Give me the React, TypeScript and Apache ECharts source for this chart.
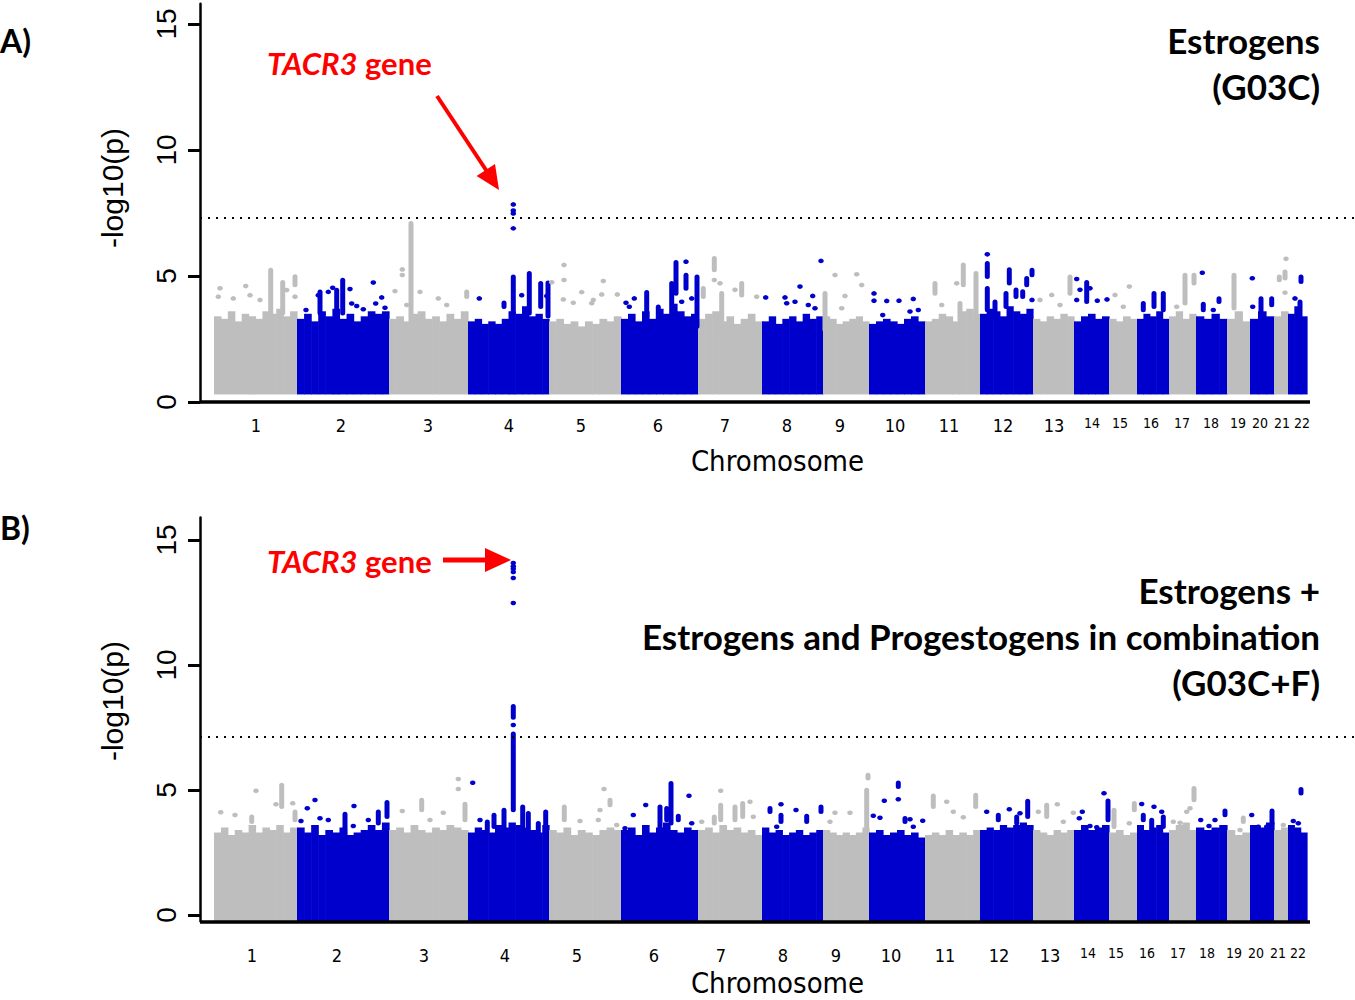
import React, { useEffect, useRef } from "react";
import * as echarts from "echarts";

const chromosomes = ["1","2","3","4","5","6","7","8","9","10","11","12","13","14","15","16","17","18","19","20","21","22"];
// relative span of each chromosome on the genome axis
const chrSizes = [83, 92, 79, 81, 72, 77, 64, 61, 46, 56, 55, 53, 41, 35, 28, 32, 27, 31, 23, 24, 14, 19];
// tick label positions on the same axis
const chrLabelPos = [42, 127, 214, 295, 367, 444, 511, 573, 626, 681, 735, 789, 840, 878, 906, 937, 968, 997, 1024, 1046, 1068, 1088];
const yTicks = [0, 5, 10, 15];
const thresholdA = 7.3;
const thresholdB = 7.13;
const floorA = 0.3;
const floorB = -0.25;

// dense bulk of SNPs: top of the dense cloud along each chromosome
const bulkTopsA = [
  [3.4,3.3,3.6,3.2,3.5,3.4,3.3,3.6,3.5,3.7,3.4,3.6],
  [3.3,3.5,3.2,3.6,3.4,3.7,3.3,3.5,3.2,3.4,3.6,3.5,3.6],
  [3.3,3.4,3.2,3.5,3.6,3.3,3.4,3.2,3.5,3.3,3.6],
  [3.2,3.3,3.1,3.2,3.1,3.3,3.6,3.5,3.8,3.4,3.5,3.3],
  [3.2,3.3,3.1,3.2,3.0,3.2,3.1,3.3,3.2,3.4],
  [3.3,3.5,3.2,3.6,3.3,3.7,3.5,3.9,3.6,3.4,3.5],
  [3.3,3.5,3.6,3.2,3.4,3.1,3.3,3.5,3.2],
  [3.2,3.4,3.1,3.3,3.4,3.2,3.5,3.3,3.4],
  [3.4,3.3,3.1,3.2,3.3,3.4,3.2],
  [3.1,3.2,3.3,3.2,3.1,3.3,3.4,3.2],
  [3.2,3.3,3.5,3.4,3.2,3.6,3.7,3.5],
  [3.5,3.7,3.6,3.4,3.8,3.6,3.5,3.7],
  [3.3,3.2,3.4,3.3,3.5,3.4],
  [3.2,3.4,3.5,3.3,3.4],
  [3.3,3.2,3.4,3.3],
  [3.3,3.5,3.4,3.6,3.3],
  [3.4,3.6,3.3,3.5],
  [3.4,3.3,3.5,3.3],
  [3.3,3.6,3.2],
  [3.3,3.6,3.4],
  [3.4,3.6],
  [3.5,3.8,3.4],
];
const bulkTopsB = [
  [3.3,3.5,3.2,3.4,3.3,3.6,3.3,3.5,3.4,3.6,3.3,3.5],
  [3.5,3.3,3.6,3.2,3.4,3.3,3.5,3.2,3.3,3.4,3.6,3.4,3.7],
  [3.4,3.5,3.3,3.6,3.4,3.3,3.5,3.4,3.6,3.5,3.4],
  [3.3,3.5,3.4,3.3,3.6,3.5,3.7,3.6,3.5,3.4,3.3,3.6],
  [3.4,3.3,3.5,3.2,3.4,3.3,3.2,3.4,3.5,3.4],
  [3.4,3.5,3.2,3.6,3.3,3.5,3.7,3.4,3.3,3.5,3.4],
  [3.4,3.5,3.3,3.6,3.4,3.5,3.3,3.4,3.2],
  [3.5,3.3,3.4,3.2,3.3,3.4,3.2,3.3,3.4],
  [3.4,3.3,3.2,3.3,3.2,3.3,3.5],
  [3.3,3.4,3.2,3.3,3.4,3.2,3.3,3.1],
  [3.2,3.3,3.2,3.4,3.2,3.3,3.2,3.4],
  [3.4,3.5,3.4,3.6,3.5,3.6,3.7,3.6],
  [3.4,3.3,3.2,3.4,3.3,3.4],
  [3.4,3.6,3.4,3.5,3.6],
  [3.3,3.4,3.2,3.3],
  [3.6,3.4,3.5,3.6,3.3],
  [3.4,3.6,3.7,3.4],
  [3.5,3.4,3.5,3.6],
  [3.4,3.2,3.3],
  [3.6,3.5,3.7],
  [3.4,3.5],
  [3.6,3.5,3.3],
];

// vertical runs of SNPs above the bulk: [position, low, high]
const streaksA = [
  [56.7,3.25,5.24],[68.7,3.52,4.75],[81,4.64,4.98],
  [106,3.52,4.37],[122.7,3.52,4.44],[128.7,3.52,4.84],
  [197,2.99,7.09],[252.7,4.18,4.37],
  [299.3,3.52,4.97],[315.3,3.52,5.11],[326.7,3.78,4.71],[334,3.4,4.73],[290,3.78,3.94],
  [462,4.31,5.54],[472,4.51,5.04],[457.7,2.86,4.71],[483,3.0,4.97],[432.7,3.39,4.35],[444.3,2.86,3.78],
  [500.3,5.24,5.7],[507.7,2.86,4.31],[527.7,4.24,4.71],[489.3,4.18,4.51],
  [611,2.86,4.31],
  [749.3,4.64,5.44],[762,3.52,5.11],[721,4.31,4.71],[746,3.25,3.92],
  [773.3,4.97,5.5],[773.3,3.65,4.51],[795.3,4.71,5.26],[818,5.04,5.24],[802,4.18,4.45],[812.7,4.64,4.91],[808.7,4.18,4.38],[792,3.78,4.31],[781,3.39,3.98],
  [856,4.31,4.97],
  [872.7,3.98,4.75],
  [940,3.78,4.31],[949.3,3.65,4.31],[929.3,3.65,3.92],
  [971,3.92,5.04],[980,4.71,5.04],
  [989.3,3.65,3.89],[1005,3.98,4.11],
  [1020,3.72,5.04],
  [1047,3.39,4.11],[1057.7,3.85,4.11],
  [1071,4.91,5.17],[1065.3,4.84,4.97],
  [1087,4.77,4.97],[1086,3.39,3.98],
];
// isolated SNPs: [position, -log10(p)]
const dotsA = [
  [6,4.51],[4.3,4.18],[19.3,4.11],[31.7,4.6],[36,4.24],[46,4.05],[72.7,4.44],[81,4.18],
  [92,3.65],[104.3,4.24],[114.3,4.37],[118.7,4.53],[136,4.48],[137.7,3.91],[142.7,3.81],[149.3,3.68],[159.3,4.74],[161.7,3.91],[167.7,4.15],[171,3.74],
  [188.3,5.26],[188.3,5.04],[181,4.4],[206,4.37],[192.7,3.85],[224.3,4.11],[232.7,3.85],
  [299.3,7.84],[299.3,7.6],[299.3,7.48],[299.3,6.89],[265.3,4.11],[307.7,4.24],[332.7,4.21],
  [350,5.44],[350,4.84],[337.7,4.75],[389.3,4.8],[367.7,4.36],[379.3,4.05],[387.7,4.27],[403.3,4.27],[359.3,3.94],[349.3,4.07],[377.7,3.92],
  [472,5.57],[420.3,4.11],[412,3.94],[467.7,3.98],[477.7,4.11],[415.3,3.78],
  [500.3,4.84],[506,4.71],[521,4.45],[542.7,4.18],
  [551.7,4.15],[571,4.15],[572.7,3.92],[581,3.98],[586,4.58],[598.7,4.21],[594.3,3.85],[601,3.72],[607,5.6],
  [621,5.04],[642.7,5.07],[647.7,4.64],[631,4.21],[627.7,3.72],
  [660,4.31],[660,4.02],[672.7,4.01],[685,4.02],[699.3,4.09],[668.7,3.45],[696,3.59],[704.3,3.65],
  [742.7,4.71],[727.7,3.85],
  [773.3,5.86],[818,4.05],
  [837.7,4.25],[826,4.05],[846,3.85],
  [862.7,4.88],[876,4.51],[866,4.45],[883.3,4.02],[893,4.07],[862.7,4.05],
  [901,4.25],[915.3,4.58],[909.3,3.78],
  [962.7,3.78],
  [988.3,5.13],[999.3,3.65],
  [1038.3,4.91],[1038.7,3.78],
  [1072,5.68],[1071,4.34],
  [1081,4.11],
];
const streaksB = [
  [67.7,4.33,5.2],[37.7,3.73,3.93],[81,3.8,4.13],
  [131,3.0,4.04],[164.3,3.67,4.13],[173,3.93,4.51],
  [207.7,4.2,4.6],[251,3.8,4.44],
  [299.3,7.9,8.35],[299.3,4.2,7.25],[290,3.0,4.2],[280,3.53,4.0],[308.7,3.53,4.33],[314.3,3.0,4.07],[331.7,3.0,4.13],[273.3,3.33,3.73],[324.3,3.27,3.67],
  [350.3,3.8,4.33],[396,4.4,4.6],
  [457,3.67,5.27],[446,3.13,4.33],[452.7,3.8,4.27],[464.3,3.8,3.96],
  [506.7,3.8,4.4],[521,3.8,4.33],[528.7,3.93,4.47],[500.3,3.67,3.93],
  [556,4.13,4.27],[567,3.73,4.0],[592.7,3.73,3.96],[607,4.13,4.33],
  [652.7,3.53,5.0],[654,5.47,5.6],
  [684.3,5.13,5.29],[691,3.73,3.87],
  [719.3,4.33,4.77],[761.7,4.33,4.8],
  [813.7,3.93,4.56],[784.3,3.8,4.0],[802.7,3.67,3.93],
  [832.7,3.93,4.4],
  [894,3.8,4.57],
  [900,3.53,4.2],[920.3,4.2,4.47],
  [929.3,3.8,4.0],[937.7,3.4,3.8],[949.3,3.53,3.93],
  [980,4.6,5.07],
  [1011,4.0,4.17],
  [1029.3,3.73,3.89],
  [1058,3.67,4.17],
  [1087,4.87,5.03],
];
const dotsB = [
  [42,4.97],[62,4.43],[78.7,4.47],[6.7,4.11],[21,4.0],
  [101,4.6],[93.3,4.27],[87,3.76],[106,3.87],[114.3,3.8],[140,4.36],[154.3,3.8],[139.3,3.56],
  [244.3,5.44],[244.3,5.04],[188.3,4.16],[229.3,4.09],[216,3.8],
  [299.3,14.08],[299.3,13.95],[299.3,13.85],[299.3,13.72],[299.3,13.48],[299.3,12.48],[299.3,7.6],[258.7,5.29],[266,3.8],
  [390,5.04],[386,4.2],[366,3.76],[402.7,3.6],[384.3,3.8],
  [475,4.77],[431.7,4.4],[419.3,4.0],[477.7,3.67],[411,3.47],
  [506.7,4.97],[536,4.53],[487.7,3.73],[539.3,3.93],
  [567,4.43],[582,4.2],[562.7,3.53],
  [621,4.09],[636,4.09],[616,3.73],
  [684.3,4.63],[670.3,4.57],[659.3,3.97],[666,3.89],[696,3.83],[708.7,3.77],[699.3,3.53],
  [732.7,4.53],[739.3,4.13],[749.3,3.91],
  [795.3,4.23],[772.7,4.13],[806,4.07],
  [843.3,4.43],[824.3,4.13],[859.3,4.09],[849.3,3.73],
  [890,4.87],[868.3,4.13],[865.3,3.87],[876,3.56],[882.7,3.51],
  [915.3,3.67],
  [927.7,4.44],[940,4.33],[947.7,4.13],
  [972.7,4.13],[976,4.27],[959.3,3.73],[966,3.69],
  [986.7,3.8],[1001,3.8],[995,3.56],
  [1026,3.4],
  [1037.7,4.0],[1044.3,3.53],[1052.7,3.53],
  [1069.3,3.6],
  [1079.3,3.76],[1084.3,3.67],
];

const GREY = "#BEBEBE";
const BLUE = "#0000CD";
const RED = "#FF0000";

const chrStarts: number[] = [];
chrSizes.reduce((acc, s) => { chrStarts.push(acc); return acc + s; }, 0);
const genomeEnd = chrStarts[chrStarts.length - 1] + chrSizes[chrSizes.length - 1];

function chrIndexOf(u: number) {
  for (let i = 0; i < chrSizes.length; i++) {
    if (u < chrStarts[i] + chrSizes[i]) return i;
  }
  return chrSizes.length - 1;
}
const colorOf = (ci: number) => (ci % 2 === 0 ? GREY : BLUE);

function buildColumns(tops: number[][]) {
  const cols: number[][] = [];
  tops.forEach((arr, ci) => {
    const w = chrSizes[ci] / arr.length;
    arr.forEach((t, k) => cols.push([chrStarts[ci] + k * w, chrStarts[ci] + (k + 1) * w, t, ci]));
  });
  return cols;
}

const X_MIN = -14;
const X_MAX = 1141;
const NARROW = "'Liberation Sans Narrow', 'DejaVu Sans Condensed', 'Liberation Sans', sans-serif";

function panelSeries(idx: number, tops: number[][], streaks: number[][], dots: number[][], floor: number, thr: number, yMin: number) {
  const cols = buildColumns(tops);
  return [
    {
      type: "custom",
      xAxisIndex: idx,
      yAxisIndex: idx,
      silent: true,
      z: 2,
      encode: { x: [0, 1], y: 2 },
      data: cols,
      renderItem: (params: any, api: any) => {
        const x0 = api.value(0), x1 = api.value(1), top = api.value(2), ci = api.value(3);
        const p0 = api.coord([x0, top]);
        const p1 = api.coord([x1, floor]);
        return {
          type: "rect",
          shape: { x: p0[0], y: p0[1], width: p1[0] - p0[0] + 0.6, height: p1[1] - p0[1] },
          style: { fill: colorOf(ci) },
        };
      },
    },
    {
      type: "custom",
      xAxisIndex: idx,
      yAxisIndex: idx,
      silent: true,
      z: 3,
      encode: { x: 0, y: [1, 2] },
      data: streaks.map((s) => [s[0], s[1], s[2], chrIndexOf(s[0])]),
      renderItem: (params: any, api: any) => {
        const u = api.value(0), lo = api.value(1), hi = api.value(2), ci = api.value(3);
        const pHi = api.coord([u, hi]);
        const pLo = api.coord([u, lo]);
        return {
          type: "rect",
          shape: { x: pHi[0] - 2.5, y: pHi[1] - 2.3, width: 5, height: pLo[1] - pHi[1] + 4.6, r: 2.5 },
          style: { fill: colorOf(ci) },
        };
      },
    },
    {
      type: "scatter",
      xAxisIndex: idx,
      yAxisIndex: idx,
      silent: true,
      z: 4,
      symbol: "circle",
      symbolSize: [5.5, 4.6],
      data: dots.map((d) => [d[0], d[1], chrIndexOf(d[0])]),
      itemStyle: { color: (p: any) => colorOf(p.data[2]), opacity: 1 },
      markLine: {
        silent: true,
        symbol: ["none", "none"],
        animation: false,
        label: { show: false },
        emphasis: { disabled: true },
        data: [
          { yAxis: thr, lineStyle: { type: [2, 6], width: 2, color: "#000" } },
          [
            { coord: [X_MIN, yMin], lineStyle: { type: "solid", width: 3.5, color: "#000" } },
            { coord: [genomeEnd + 3, yMin] },
          ],
        ],
      },
    },
  ];
}

function xAxisFor(idx: number, margin: number, nameGap: number, shift: number) {
  return {
    gridIndex: idx,
    type: "value",
    min: X_MIN,
    max: X_MAX,
    axisLine: { show: false, onZero: false },
    axisTick: { show: false },
    splitLine: { show: false },
    axisLabel: {
      customValues: chrLabelPos,
      margin,
      padding: [0, shift, 0, 0],
      formatter: (v: number) => {
        const i = chrLabelPos.findIndex((c) => Math.abs(c - v) < 0.01);
        const name = i >= 0 ? chromosomes[i] : "";
        return i >= 13 ? `{s|${name}}` : `{b|${name}}`;
      },
      rich: {
        b: { fontSize: 18, fontFamily: NARROW, color: "#000" },
        s: { fontSize: 14, fontFamily: NARROW, color: "#000" },
      },
    },
    name: "Chromosome",
    nameLocation: "middle",
    nameGap,
    nameTextStyle: { fontSize: 29, lineHeight: 29, fontFamily: NARROW, color: "#000" },
  };
}

function yAxisFor(idx: number, min: number, max: number) {
  return {
    gridIndex: idx,
    type: "value",
    min,
    max,
    splitLine: { show: false },
    axisLine: { show: true, onZero: false, lineStyle: { color: "#000", width: 2.5 } },
    axisTick: { show: true, length: 12, customValues: yTicks, lineStyle: { color: "#000", width: 3 } },
    axisLabel: {
      customValues: yTicks,
      rotate: 90,
      margin: 20,
      fontSize: 28,
      fontFamily: "'Liberation Sans', Arial, sans-serif",
      color: "#000",
    },
  };
}

function textEl(x: number, y: number, text: string, font: string, align = "left", fill = "#000", extra: any = {}) {
  return { type: "text", x, y, silent: true, ...extra, style: { text, font, fill, align, verticalAlign: "middle", ...(extra.style || {}) } };
}

const TITLE_FONT = "bold 35px Lato, 'Open Sans', sans-serif";
const TAG_FONT = "bold 31px Lato, 'Open Sans', sans-serif";
const tagRich = { i: { fontStyle: "italic", fontWeight: "bold", fontSize: 31, fontFamily: "Lato", fill: RED } };

const option: any = {
  animation: false,
  backgroundColor: "#ffffff",
  grid: [
    { left: 200, top: 3.84, width: 1155, height: 398.16, outerBoundsMode: "none", containLabel: false },
    { left: 200, top: 517.5, width: 1155, height: 403.75, outerBoundsMode: "none", containLabel: false },
  ],
  xAxis: [xAxisFor(0, 14, 44, 0), xAxisFor(1, 25, 47, 8)],
  yAxis: [yAxisFor(0, 0, 15.8), yAxisFor(1, floorB, 15.9)],
  series: [
    ...panelSeries(0, bulkTopsA, streaksA, dotsA, floorA, thresholdA, 0),
    ...panelSeries(1, bulkTopsB, streaksB, dotsB, floorB, thresholdB, floorB),
  ],
  graphic: [
    textEl(0, 40, "A)", "bold 32px Lato, sans-serif"),
    textEl(0, 527, "B)", "bold 32px Lato, sans-serif"),
    textEl(112, 188, "-log10(p)", "30px 'Liberation Sans', Arial, sans-serif", "center", "#000", { rotation: Math.PI / 2 }),
    textEl(112, 701, "-log10(p)", "30px 'Liberation Sans', Arial, sans-serif", "center", "#000", { rotation: Math.PI / 2 }),
    textEl(1320, 40, "Estrogens", TITLE_FONT, "right"),
    textEl(1320, 86, "(G03C)", TITLE_FONT, "right"),
    textEl(1320, 590, "Estrogens +", TITLE_FONT, "right"),
    textEl(1320, 636, "Estrogens and Progestogens in combination", TITLE_FONT, "right"),
    textEl(1320, 682, "(G03C+F)", TITLE_FONT, "right"),
    textEl(267, 63, "{i|TACR3} gene", TAG_FONT, "left", RED, { style: { rich: tagRich } }),
    textEl(267, 561, "{i|TACR3} gene", TAG_FONT, "left", RED, { style: { rich: tagRich } }),
    { type: "line", silent: true, shape: { x1: 437, y1: 96, x2: 488, y2: 173 }, style: { stroke: RED, lineWidth: 4 } },
    { type: "polygon", silent: true, shape: { points: [[476.6, 176.1], [499, 190], [495, 164]] }, style: { fill: RED } },
    { type: "line", silent: true, shape: { x1: 443, y1: 560, x2: 490, y2: 560 }, style: { stroke: RED, lineWidth: 5 } },
    { type: "polygon", silent: true, shape: { points: [[485, 548], [511, 560], [485, 572]] }, style: { fill: RED } },
  ],
};

export default function App() {
  const ref = useRef<HTMLDivElement>(null);
  useEffect(() => {
    if (!ref.current) return;
    const chart = echarts.init(ref.current, null, { renderer: "svg" });
    chart.setOption(option);
    return () => chart.dispose();
  }, []);
  return (
    <div
      ref={ref}
      style={{ position: "absolute", left: 0, top: 0, width: 1355, height: 1000, background: "#fff" }}
    />
  );
}
